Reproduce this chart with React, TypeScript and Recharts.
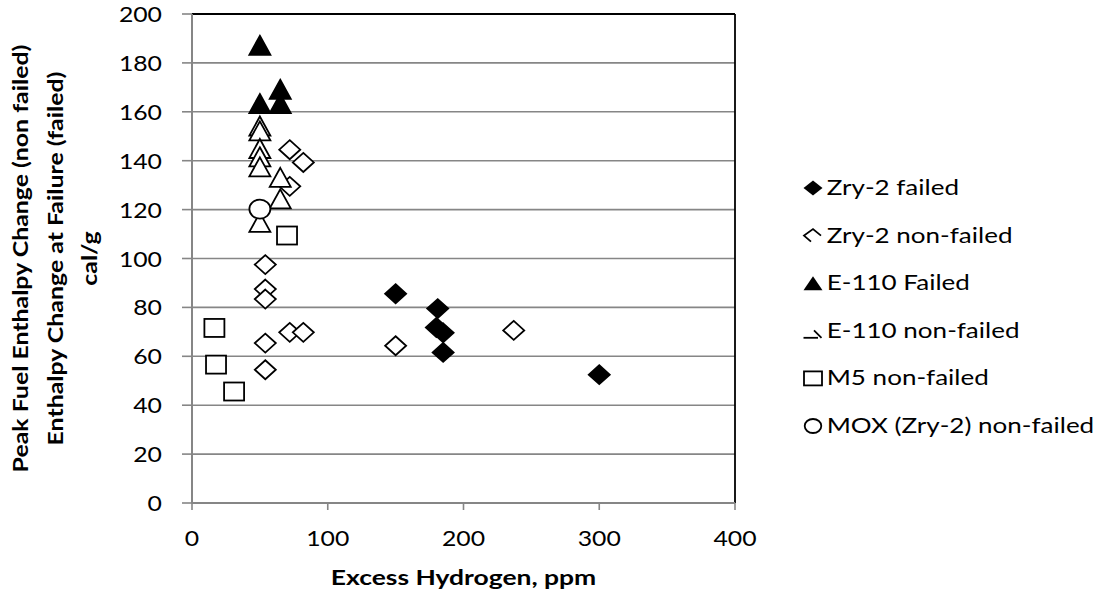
import React from 'react';
import {
  ScatterChart, Scatter, XAxis, YAxis, CartesianGrid, ReferenceLine, Legend,
} from 'recharts';

// values
const zry2Failed = [
  { x: 150, y: 85.6 }, { x: 181, y: 79.5 }, { x: 180, y: 71.8 },
  { x: 185, y: 69.6 }, { x: 185, y: 61.6 }, { x: 300, y: 52.5 },
];
const zry2NonFailed = [
  { x: 72, y: 144.5 }, { x: 82, y: 139.3 }, { x: 72, y: 129.5 },
  { x: 54, y: 97.5 }, { x: 54, y: 87.5 }, { x: 54, y: 83.4 },
  { x: 72, y: 69.8 }, { x: 82, y: 69.8 }, { x: 54, y: 65.4 },
  { x: 54, y: 54.5 }, { x: 150, y: 64.3 }, { x: 237, y: 70.6 },
];
const e110Failed = [
  { x: 50, y: 187.2 }, { x: 50, y: 163.4 }, { x: 65, y: 169.2 }, { x: 65, y: 163.4 },
];
const e110NonFailed = [
  { x: 50, y: 154.2 }, { x: 50, y: 152.2 }, { x: 50, y: 145 }, { x: 50, y: 141.6 },
  { x: 50, y: 137.5 }, { x: 65, y: 133.2 }, { x: 65, y: 124.4 }, { x: 50, y: 114.8 },
];
const m5NonFailed = [
  { x: 16.5, y: 71.6 }, { x: 17.7, y: 56.6 }, { x: 31, y: 45.6 }, { x: 70, y: 109.4 },
];
const moxNonFailed = [{ x: 50, y: 120.2 }];

const xTicks = [0, 100, 200, 300, 400];
const yTicks = [0, 20, 40, 60, 80, 100, 120, 140, 160, 180, 200];

const seriesNames = [
  'Zry-2 failed',
  'Zry-2 non-failed',
  'E-110 Failed',
  'E-110 non-failed',
  'M5 non-failed',
  'MOX (Zry-2) non-failed',
];

const FONT = 'Lato, "Open Sans", sans-serif';
const GRID = '#868686';
const STRETCH = 1.18; // Lato is narrower than the font of the original

type Kind = 'diamond' | 'triangle' | 'square' | 'circle';

function markerShape(kind: Kind, filled: boolean) {
  return (props: any) => {
    const { cx, cy } = props;
    const fill = filled ? '#000' : '#fff';
    const common = { fill, stroke: '#000', strokeWidth: 1.8 };
    if (kind === 'diamond') {
      return <polygon {...common} points={`${cx},${cy - 9.5} ${cx + 10.5},${cy} ${cx},${cy + 9.5} ${cx - 10.5},${cy}`} />;
    }
    if (kind === 'triangle') {
      return <polygon {...common} points={`${cx},${cy - 9.5} ${cx + 10.5},${cy + 9.5} ${cx - 10.5},${cy + 9.5}`} />;
    }
    if (kind === 'square') {
      return <rect {...common} x={cx - 10} y={cy - 9} width={20} height={18} />;
    }
    return <ellipse {...common} cx={cx} cy={cy} rx={10.5} ry={9.5} />;
  };
}

function LegendIcon({ name, cx, cy }: { name: string; cx: number; cy: number }) {
  const s = { stroke: '#000', strokeWidth: 1.8, fill: 'none' };
  switch (name) {
    case 'Zry-2 failed':
      return <polygon fill="#000" points={`${cx},${cy - 7.5} ${cx + 9.5},${cy} ${cx},${cy + 7.5} ${cx - 9.5},${cy}`} />;
    case 'Zry-2 non-failed':
      return <polyline {...s} points={`${cx - 2},${cy + 6} ${cx - 9},${cy} ${cx},${cy - 6.5} ${cx + 8},${cy}`} />;
    case 'E-110 Failed':
      return <polygon fill="#000" points={`${cx},${cy - 7} ${cx + 9.5},${cy + 7} ${cx - 9.5},${cy + 7}`} />;
    case 'E-110 non-failed':
      return (
        <g>
          <line {...s} x1={cx - 9.5} y1={cy + 7} x2={cx + 5} y2={cy + 7} />
          <line {...s} x1={cx + 1} y1={cy - 0.5} x2={cx + 8.5} y2={cy + 7} />
        </g>
      );
    case 'M5 non-failed':
      return <rect {...s} x={cx - 9} y={cy - 7} width={18} height={14} />;
    default:
      return <ellipse {...s} cx={cx} cy={cy} rx={8.3} ry={7} />;
  }
}

const LEGEND_LEFT = 790;
const LEGEND_TOP = 170;

function renderLegend(props: any) {
  const payload: any[] = [...(props.payload || [])];
  payload.sort((a, b) => seriesNames.indexOf(a.value) - seriesNames.indexOf(b.value));
  return (
    <svg width={311} height={290} style={{ display: 'block', overflow: 'visible' }}>
      {payload.map((entry, i) => {
        const base = 195 + i * 47.6 - LEGEND_TOP;
        const cy = base - 7;
        const tx = 826.7 - LEGEND_LEFT;
        return (
          <g key={entry.value}>
            <LegendIcon name={entry.value} cx={813 - LEGEND_LEFT} cy={cy} />
            <text
              transform={`translate(${tx},${base}) scale(1.24,1)`}
              fontFamily={FONT}
              fontSize={21}
              fill="#000"
            >
              {entry.value}
            </text>
          </g>
        );
      })}
    </svg>
  );
}

const XTick = (props: any) => {
  const { x, y, payload } = props;
  return (
    <text
      transform={`translate(${x},${y + 34}) scale(${STRETCH},1)`}
      textAnchor="middle"
      fontFamily={FONT}
      fontSize={21}
      fill="#000"
    >
      {payload.value}
    </text>
  );
};

const YTick = (props: any) => {
  const { x, y, payload } = props;
  return (
    <text
      transform={`translate(${x},${y + 8}) scale(${STRETCH},1)`}
      textAnchor="end"
      fontFamily={FONT}
      fontSize={21}
      fill="#000"
    >
      {payload.value}
    </text>
  );
};

const YTitle = (props: any) => {
  const vb = props.viewBox || { x: 0, y: 14, width: 192, height: 489 };
  const cy = vb.y + vb.height / 2;
  const lines = [
    { dx: 28, text: 'Peak Fuel Enthalpy Change (non failed)' },
    { dx: 63, text: 'Enthalpy Change at Failure (failed)' },
    { dx: 97, text: 'cal/g' },
  ];
  return (
    <g>
      {lines.map((l) => (
        <text
          key={l.text}
          transform={`translate(${vb.x + l.dx},${cy}) rotate(-90) scale(1.185,1)`}
          textAnchor="middle"
          fontFamily={FONT}
          fontWeight="bold"
          fontSize={21}
          fill="#000"
        >
          {l.text}
        </text>
      ))}
    </g>
  );
};

const XTitle = (props: any) => {
  const vb = props.viewBox || { x: 192, y: 503, width: 543, height: 60 };
  return (
    <text
      transform={`translate(${vb.x + vb.width / 2},${vb.y + 82}) scale(1.26,1)`}
      textAnchor="middle"
      fontFamily={FONT}
      fontWeight="bold"
      fontSize={21}
      fill="#000"
    >
      Excess Hydrogen, ppm
    </text>
  );
};

export default function App() {
  return (
    <div style={{ position: 'absolute', left: 0, top: 0, width: 1101, height: 595, background: '#fff' }}>
      <ScatterChart
        width={1101}
        height={595}
        margin={{ top: 14, right: 366, bottom: 32, left: 0 }}
      >
        <CartesianGrid vertical={false} stroke={GRID} strokeWidth={1.6} />
        <XAxis
          type="number"
          dataKey="x"
          domain={[0, 400]}
          ticks={xTicks}
          height={60}
          stroke={GRID}
          axisLine={{ stroke: GRID, strokeWidth: 2 }}
          tickLine={{ stroke: GRID, strokeWidth: 1.6 }}
          tickSize={7}
          tick={<XTick />}
          label={<XTitle />}
        />
        <YAxis
          type="number"
          dataKey="y"
          domain={[0, 200]}
          ticks={yTicks}
          width={192}
          axisLine={{ stroke: GRID, strokeWidth: 2 }}
          tickLine={{ stroke: GRID, strokeWidth: 1.6 }}
          tickSize={10}
          tickMargin={20}
          tick={<YTick />}
          label={<YTitle />}
        />
        <ReferenceLine y={200} stroke="#000" strokeWidth={1.8} />
        <ReferenceLine x={400} stroke="#000" strokeWidth={1.8} />
        <Legend
          layout="horizontal"
          verticalAlign="middle"
          align="center"
          content={renderLegend}
          wrapperStyle={{ left: LEGEND_LEFT, top: LEGEND_TOP, width: 311, height: 290 }}
        />
        <Scatter name={seriesNames[0]} data={zry2Failed} shape={markerShape('diamond', true)} isAnimationActive={false} />
        <Scatter name={seriesNames[1]} data={zry2NonFailed} shape={markerShape('diamond', false)} isAnimationActive={false} />
        <Scatter name={seriesNames[2]} data={e110Failed} shape={markerShape('triangle', true)} isAnimationActive={false} />
        <Scatter name={seriesNames[3]} data={e110NonFailed} shape={markerShape('triangle', false)} isAnimationActive={false} />
        <Scatter name={seriesNames[4]} data={m5NonFailed} shape={markerShape('square', false)} isAnimationActive={false} />
        <Scatter name={seriesNames[5]} data={moxNonFailed} shape={markerShape('circle', false)} isAnimationActive={false} />
      </ScatterChart>
    </div>
  );
}
